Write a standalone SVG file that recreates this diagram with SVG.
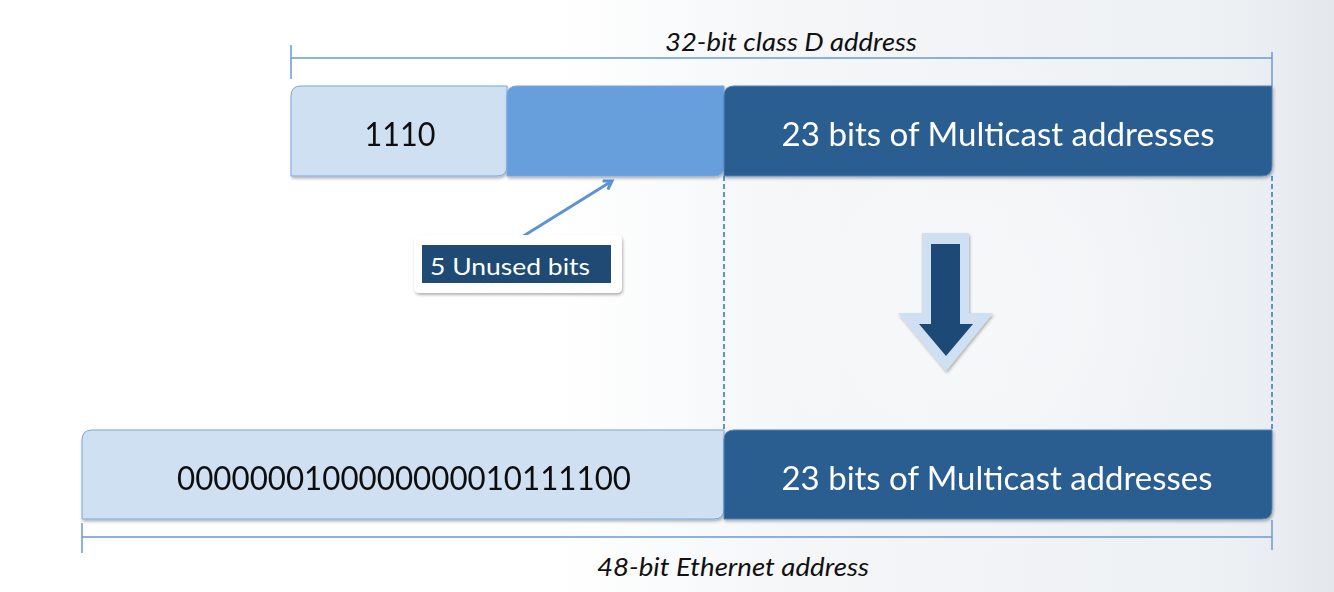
<svg xmlns="http://www.w3.org/2000/svg" width="1334" height="592" viewBox="0 0 1334 592">
<defs>
<linearGradient id="bg1" x1="0" y1="0" x2="1" y2="0">
<stop offset="0" stop-color="#ffffff"/><stop offset="0.3" stop-color="#f4f6f8"/><stop offset="0.85" stop-color="#eef1f4"/><stop offset="1" stop-color="#e4e8ed"/>
</linearGradient>
<radialGradient id="bg2" cx="960" cy="300" r="260" gradientUnits="userSpaceOnUse">
<stop offset="0" stop-color="#f7f8fa"/><stop offset="1" stop-color="#f7f8fa" stop-opacity="0"/>
</radialGradient>
<filter id="sh" x="-10%" y="-20%" width="120%" height="150%">
<feDropShadow dx="1" dy="2" stdDeviation="1.5" flood-color="#000" flood-opacity="0.3"/>
</filter>
<marker id="ah" markerWidth="12" markerHeight="12" refX="9" refY="6" orient="auto" markerUnits="userSpaceOnUse">
<path d="M1,1 L9,6 L1,11" fill="none" stroke="#5b93d3" stroke-width="3"/>
</marker>
<style>
.lbl{font-family:"Lato","Open Sans","Liberation Sans",sans-serif;}
.dim{stroke:#6a9bd2;stroke-width:1.5;fill:none}
.light{fill:#cfe0f2;stroke:#7aa7da;stroke-width:1}
.mid{fill:#669fdb;stroke:#7aa7da;stroke-width:1}
.dark{fill:#2a5d90;stroke:#4f84c0;stroke-width:1}
.dash{stroke:#5b93d3;stroke-width:2;stroke-dasharray:5,3;fill:none}
</style>
</defs>
<rect width="1334" height="592" fill="#ffffff"/>
<rect x="560" y="0" width="774" height="592" fill="url(#bg1)"/>
<rect x="700" y="40" width="520" height="520" fill="url(#bg2)"/>

<g id="connectors">
<path class="dim" d="M291,58 H1272 M291,45 V79 M1272,52 V86"/>
<path class="dim" d="M82,537 H1272 M82,523 V553 M1272,520 V550"/>
<path class="dash" d="M724,176 V430 M1272,176 V430"/>
<line x1="517" y1="240" x2="612" y2="181" stroke="#5b93d3" stroke-width="3" marker-end="url(#ah)"/>
</g>

<g id="label-32">
<text class="lbl" x="791" y="51" font-size="25" font-style="italic" text-anchor="middle" fill="#111" textLength="252" lengthAdjust="spacingAndGlyphs">32-bit class D address</text>
</g>

<g id="box-1110" filter="url(#sh)">
<path class="light" d="M301,86 H507 V166 Q507,176 497,176 H291 V96 Q291,86 301,86 Z"/>
<text class="lbl" x="400" y="146" font-size="32" text-anchor="middle" fill="#111" textLength="71" lengthAdjust="spacingAndGlyphs">1110</text>
</g>
<g id="box-unused" filter="url(#sh)">
<path class="mid" d="M517,86 H724 V166 Q724,176 714,176 H507 V96 Q507,86 517,86 Z"/>
</g>
<g id="box-23-top" filter="url(#sh)">
<path class="dark" d="M734,86 H1272 V166 Q1272,176 1262,176 H724 V96 Q724,86 734,86 Z"/>
<text class="lbl" x="998" y="146" font-size="32" text-anchor="middle" fill="#ffffff" textLength="433" lengthAdjust="spacingAndGlyphs">23 bits of Multicast addresses</text>
</g>

<g id="callout">
<rect x="414" y="235" width="208" height="58" rx="5" fill="#ffffff" filter="url(#sh)"/>
<rect x="422" y="245" width="189" height="38" fill="#1e4a74"/>
<text class="lbl" x="430" y="275" font-size="24" fill="#ffffff" textLength="160" lengthAdjust="spacingAndGlyphs">5 Unused bits</text>
</g>

<g id="big-arrow" filter="url(#sh)">
<path d="M922,233 H969 V313 H993 L946,371 L898,313 H922 Z" fill="#cfe0f2"/>
<path d="M931,244 H960 V324 H973 L946,356 L919,324 H931 Z" fill="#1e4a74"/>
</g>

<g id="box-prefix" filter="url(#sh)">
<path class="light" d="M92,430 H724 V509 Q724,519 714,519 H82 V440 Q82,430 92,430 Z"/>
<text class="lbl" x="404" y="490" font-size="32" text-anchor="middle" fill="#111" textLength="454" lengthAdjust="spacingAndGlyphs">0000000100000000010111100</text>
</g>
<g id="box-23-bottom" filter="url(#sh)">
<path class="dark" d="M734,430 H1272 V509 Q1272,519 1262,519 H724 V440 Q724,430 734,430 Z"/>
<text class="lbl" x="997" y="490" font-size="32" text-anchor="middle" fill="#ffffff" textLength="431" lengthAdjust="spacingAndGlyphs">23 bits of Multicast addresses</text>
</g>

<g id="label-48">
<text class="lbl" x="733" y="576" font-size="25" font-style="italic" text-anchor="middle" fill="#111" textLength="272" lengthAdjust="spacingAndGlyphs">48-bit Ethernet address</text>
</g>
</svg>
